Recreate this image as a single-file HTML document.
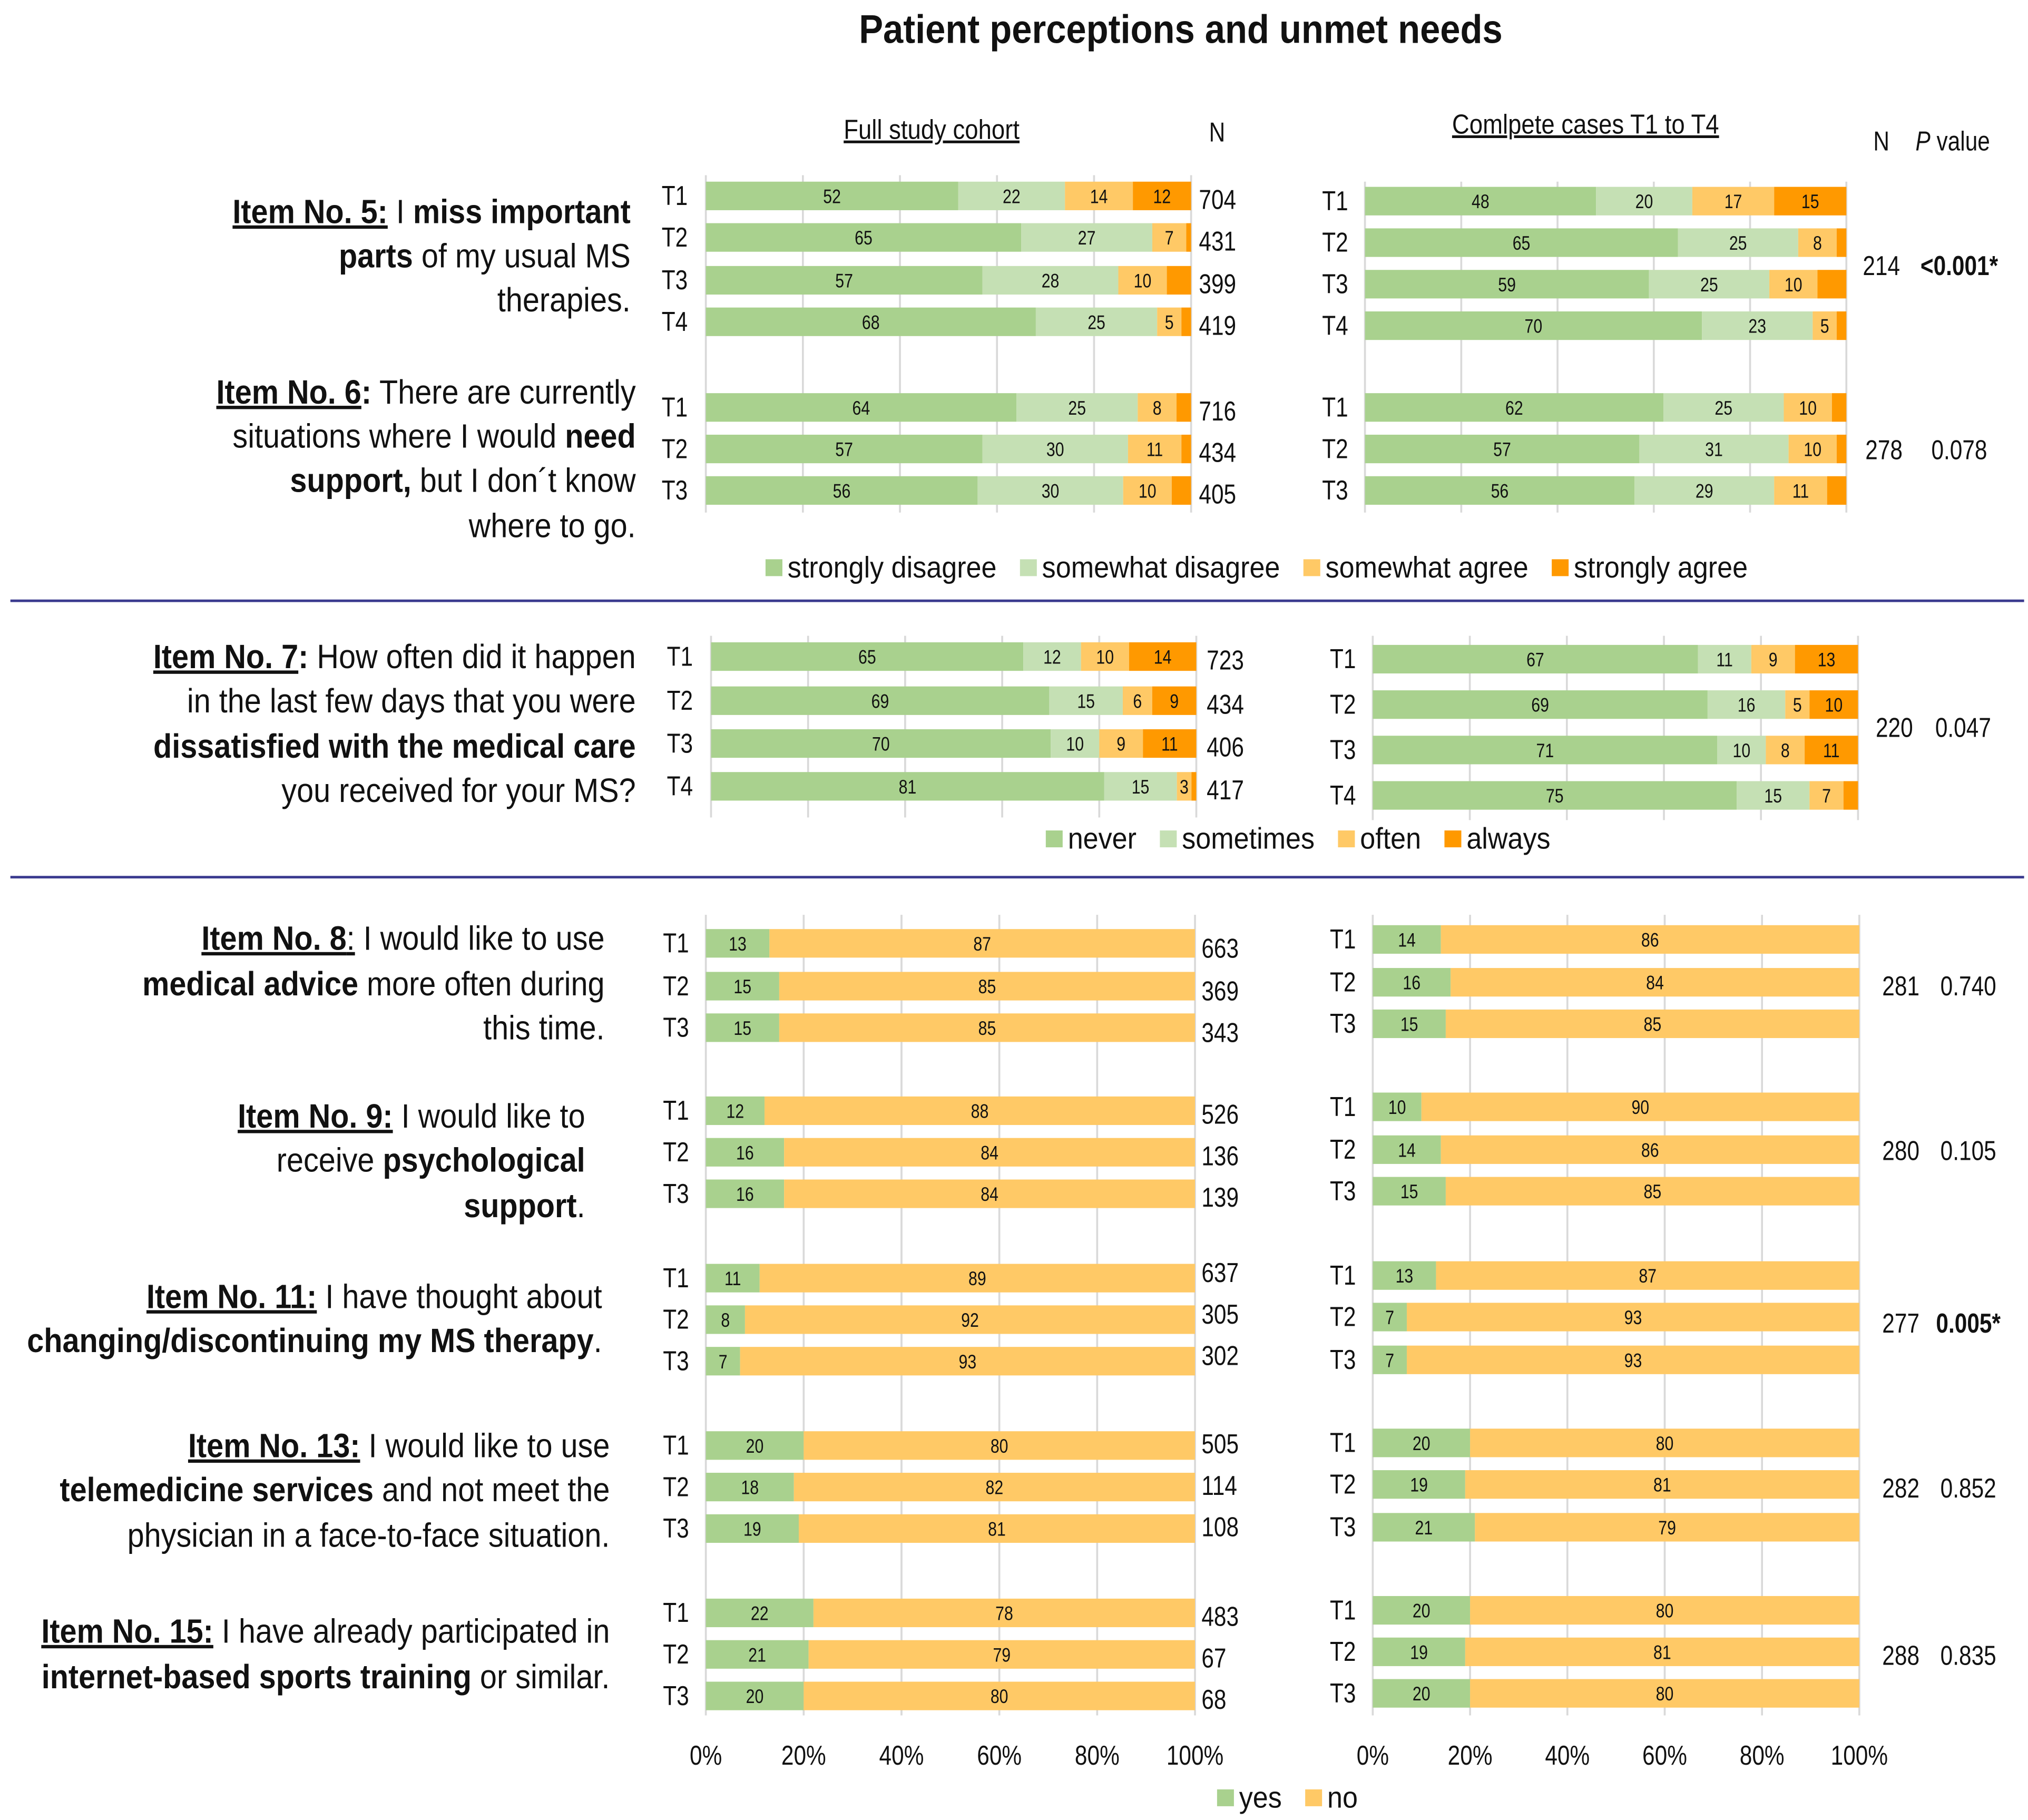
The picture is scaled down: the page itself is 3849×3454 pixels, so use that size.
<!DOCTYPE html>
<html><head><meta charset="utf-8"><style>
html,body{margin:0;padding:0;background:#fff}
svg{display:block}
text{font-family:"Liberation Sans",sans-serif;fill:#111}
.u{text-decoration:underline}
.b{font-weight:bold}
</style></head><body>
<svg id="chart" width="3849" height="3454" viewBox="0 0 1563 1402.6" preserveAspectRatio="none" xmlns="http://www.w3.org/2000/svg">
<text x="910" y="33" text-anchor="middle" font-size="31" class="b" data-sx="0.9">Patient perceptions and unmet needs</text>
<text x="718" y="107" text-anchor="middle" font-size="21" class="u" data-sx="0.88">Full study cohort</text>
<text x="938" y="109" text-anchor="middle" font-size="21">N</text>
<text x="1222" y="103" text-anchor="middle" font-size="21" class="u" data-sx="0.88">Comlpete cases T1 to T4</text>
<text x="1450" y="116" text-anchor="middle" font-size="21">N</text>
<text x="1505" y="116" text-anchor="middle" font-size="21"><tspan font-style="italic">P</tspan> value</text>
<line x1="8" y1="463" x2="1560" y2="463" stroke="#3b3b8f" stroke-width="2"/>
<line x1="8" y1="676" x2="1560" y2="676" stroke="#3b3b8f" stroke-width="2"/>
<g id="questions" font-size="26" text-anchor="end">
<text data-sx="0.9"><tspan x="486" y="172"><tspan class="b u">Item No. 5:</tspan> I <tspan class="b">miss important</tspan></tspan><tspan x="486" y="206"><tspan class="b">parts</tspan> of my usual MS</tspan><tspan x="486" y="240">therapies.</tspan></text>
<text data-sx="0.9"><tspan x="490" y="311"><tspan class="b u">Item No. 6</tspan><tspan class="b">:</tspan> There are currently</tspan><tspan x="490" y="345">situations where I would <tspan class="b">need</tspan></tspan><tspan x="490" y="379"><tspan class="b">support,</tspan> but I don´t know</tspan><tspan x="490" y="414">where to go.</tspan></text>
<text data-sx="0.9"><tspan x="490" y="515"><tspan class="b u">Item No. 7</tspan><tspan class="b">:</tspan> How often did it happen</tspan><tspan x="490" y="549">in the last few days that you were</tspan><tspan x="490" y="584"><tspan class="b">dissatisfied with the medical care</tspan></tspan><tspan x="490" y="618">you received for your MS?</tspan></text>
<text data-sx="0.9"><tspan x="466" y="732"><tspan class="b u">Item No. 8</tspan><tspan class="u">:</tspan> I would like to use</tspan><tspan x="466" y="767"><tspan class="b">medical advice</tspan> more often during</tspan><tspan x="466" y="801">this time.</tspan></text>
<text data-sx="0.9"><tspan x="451" y="869"><tspan class="b u">Item No. 9:</tspan> I would like to</tspan><tspan x="451" y="903">receive <tspan class="b">psychological</tspan></tspan><tspan x="451" y="938"><tspan class="b">support</tspan>.</tspan></text>
<text data-sx="0.9"><tspan x="464" y="1008"><tspan class="b u">Item No. 11:</tspan> I have thought about</tspan><tspan x="464" y="1042"><tspan class="b">changing/discontinuing my MS therapy</tspan>.</tspan></text>
<text data-sx="0.9"><tspan x="470" y="1123"><tspan class="b u">Item No. 13:</tspan> I would like to use</tspan><tspan x="470" y="1157"><tspan class="b">telemedicine services</tspan> and not meet the</tspan><tspan x="470" y="1192">physician in a face-to-face situation.</tspan></text>
<text data-sx="0.9"><tspan x="470" y="1266"><tspan class="b u">Item No. 15:</tspan> I have already participated in</tspan><tspan x="470" y="1301"><tspan class="b">internet-based sports training</tspan> or similar.</tspan></text>
</g>
<g id="plots"></g>
</svg>
<script>
// ---- data ----
const timeLabels = ["T1","T2","T3","T4"];
const agreeCats = ["strongly disagree","somewhat disagree","somewhat agree","strongly agree"];
const freqCats = ["never","sometimes","often","always"];
const ynCats = ["yes","no"];
const item5Left = [[52,22,14,12],[65,27,7,null],[57,28,10,null],[68,25,5,null]];
const item5Right = [[48,20,17,15],[65,25,8,null],[59,25,10,null],[70,23,5,null]];
const item6Left = [[64,25,8,null],[57,30,11,null],[56,30,10,null]];
const item6Right = [[62,25,10,null],[57,31,10,null],[56,29,11,null]];
const item7Left = [[65,12,10,14],[69,15,6,9],[70,10,9,11],[81,15,3,null]];
const item7Right = [[67,11,9,13],[69,16,5,10],[71,10,8,11],[75,15,7,null]];
const item8LeftYes = [13,15,15], item8RightYes = [14,16,15];
const item9LeftYes = [12,16,16], item9RightYes = [10,14,15];
const item11LeftYes = [11,8,7], item11RightYes = [13,7,7];
const item13LeftYes = [20,18,19], item13RightYes = [20,19,21];
const item15LeftYes = [22,21,20], item15RightYes = [20,19,20];
const item5N = [704,431,399,419], item6N = [716,434,405], item7N = [723,434,406,417];
const item8N = [663,369,343], item9N = [526,136,139], item11N = [637,305,302], item13N = [505,114,108], item15N = [483,67,68];
const completeN = ["214","278","220","281","280","277","282","288"];
const pValues = ["<0.001*","0.078","0.047","0.740","0.105","0.005*","0.852","0.835"];
const axisTicks = ["0%","20%","40%","60%","80%","100%"];

const colors4 = ["#a9d18e","#c5e0b4","#ffc966","#ff9900"];
const colorsYN = ["#a9d18e","#ffc966"];
const SX = 0.82, LSX = 0.92;
const NS="http://www.w3.org/2000/svg";
const plots=document.getElementById('plots');
function mk(tag,attrs,parent){const e=document.createElementNS(NS,tag);for(const k in attrs)e.setAttribute(k,attrs[k]);(parent||plots).appendChild(e);return e;}
function scale(x0,x1){return v=>x0+(x1-x0)*v/100;}

function grid(x0,x1,y0,y1){
  for(let i=0;i<=5;i++){const x=scale(x0,x1)(i*20);
    const l=mk('line',{x1:x,x2:x,y1:y0,y2:y1,stroke:'#d9d9d9','stroke-width':1.5});
    
    }
}
function rowBars(x0,x1,y,vals,cols,tlabel,tx,nval,nx,h){
  const sx=scale(x0,x1);
  let sum=vals.reduce((a,b)=>a+(b||0),0);
  let full=vals.map(v=>v===null?Math.max(0,100-sum):v);
  const tot=full.reduce((a,b)=>a+b,0);
  let acc=0;
  full.forEach((v,i)=>{
    const a=sx(acc*100/tot), b=sx((acc+v)*100/tot);
    const r=mk('rect',{x:a,y:y-h/2,width:Math.max(0,b-a),height:h,fill:cols[i]});
    
    
    if(vals[i]!==null){const t=mk('text',{x:(a+b)/2,y:y+5.5,'text-anchor':'middle','font-size':15});t.textContent=vals[i];
      
      }
    acc+=v;
  });
  const tl=mk('text',{x:tx,y:y+7,'text-anchor':'middle','font-size':21});tl.textContent=tlabel;
  
  
  if(nval!==undefined){const n=mk('text',{x:nx,y:y+10,'font-size':21});n.textContent=nval;
    
    }
}
function block(data,x0,x1,ys,cols,tx,ns,nx,h){
  data.forEach((v,i)=>rowBars(x0,x1,ys[i],v,cols,timeLabels[i],tx,ns?ns[i]:undefined,nx,h));
}
function yn(arr){return arr.map(v=>[v,100-v]);}
function stat(i,y,bold,nx,px){
  const n=mk('text',{x:nx,y:y+8,'text-anchor':'middle','font-size':21});n.textContent=completeN[i];
  
  
  const p=mk('text',{x:px,y:y+8,'text-anchor':'middle','font-size':21});p.textContent=pValues[i];
  if(bold)p.setAttribute('font-weight','bold');
  
  
}
function legend(cats,cols,x,y){
  let cx=x;
  cats.forEach((c,i)=>{
    const r=mk('rect',{x:cx,y:y-14,width:13,height:13,fill:cols[i]});
    
    
    const t=mk('text',{x:cx+17,y:y,'font-size':23,'data-sx':LSX});t.textContent=c;
    
    
    cx+=17+t.getComputedTextLength()*LSX+18;
  });
}

// Section 1
grid(544,918,135,395); grid(1052,1423,140,395);
block(item5Left,544,918,[151,183,216,248],colors4,520,item5N,924,22);
block(item5Right,1052,1423,[155,187,219,251],colors4,1029,null,0,22);
block(item6Left,544,918,[314,346,378],colors4,520,item6N,924,22);
block(item6Right,1052,1423,[314,346,378],colors4,1029,null,0,22);
stat(0,204,true,1450,1510); stat(1,346,false,1452,1510);
legend(agreeCats,colors4,590,445);

// Section 2
grid(548,922,490,630); grid(1058,1432,490,632);
block(item7Left,548,922,[506,540,573,606],colors4,524,item7N,930,22);
block(item7Right,1058,1432,[508,543,578,613],colors4,1035,null,0,22);
stat(2,560,false,1460,1513);
legend(freqCats,colors4,806,654);

// Section 3
grid(544,921,705,1322); grid(1058,1433,705,1322);
const lY=[[727,760,792],[856,888,920],[985,1017,1049],[1114,1146,1178],[1243,1275,1307]];
const rY=[[724,757,789],[853,886,918],[983,1015,1048],[1112,1144,1177],[1241,1273,1305]];
const lD=[item8LeftYes,item9LeftYes,item11LeftYes,item13LeftYes,item15LeftYes];
const rD=[item8RightYes,item9RightYes,item11RightYes,item13RightYes,item15RightYes];
const nD=[item8N,item9N,item11N,item13N,item15N];
const nOff=[3,2,-5,-2,2];
lD.forEach((d,i)=>{
  block(yn(d),544,921,lY[i],colorsYN,521,null,0,22);
  nD[i].forEach((n,j)=>{const t=mk('text',{x:926,y:lY[i][j]+nOff[i]+8,'font-size':21});t.textContent=n;
    
    });
  block(yn(rD[i]),1058,1433,rY[i],colorsYN,1035,null,0,22);
});
stat(3,759,false,1465,1517); stat(4,886,false,1465,1517); stat(5,1019,true,1465,1517); stat(6,1146,false,1465,1517); stat(7,1275,false,1465,1517);
axisTicks.forEach((t,i)=>{
  [[544,921],[1058,1433]].forEach(r=>{
    const e=mk('text',{x:scale(r[0],r[1])(i*20),y:1360,'text-anchor':'middle','font-size':21});e.textContent=t;
    
    
  });
});
legend(ynCats,colorsYN,938,1393);

// condense all text horizontally around its anchor x (narrow font look)
document.querySelectorAll('#chart text').forEach(t=>{
  let x=t.getAttribute('x');
  if(x===null){const ts=t.querySelector('tspan[x]'); x=ts?ts.getAttribute('x'):0;}
  x=parseFloat(x);
  const s=t.getAttribute('data-sx')||SX;
  t.setAttribute('transform',`translate(${x} 0) scale(${s} 1) translate(${-x} 0)`);
});
</script>
</body></html>
